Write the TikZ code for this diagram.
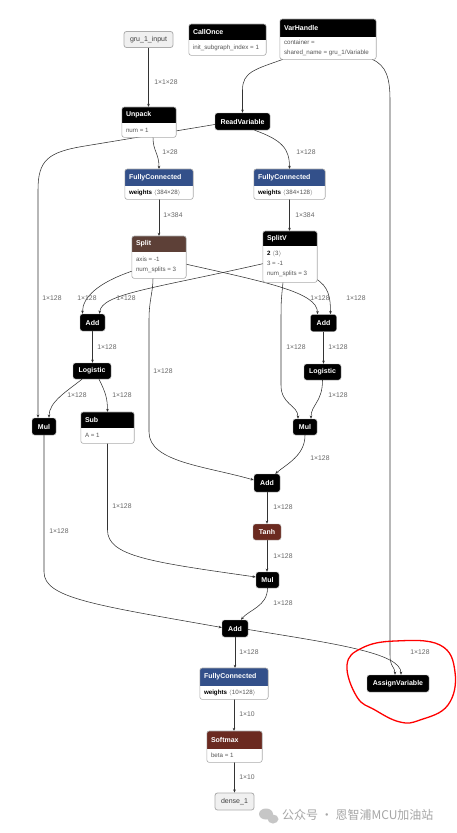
\documentclass[tikz,border=0pt]{standalone}
\usepackage{fontspec}
\setmainfont{Liberation Sans}
\newfontfamily\cjkfont{Noto Sans CJK SC}
\usetikzlibrary{arrows.meta,calc}
\definecolor{fcblue}{HTML}{33508A}
\definecolor{splitbrown}{HTML}{5D4037}
\definecolor{actred}{HTML}{6B2A20}
\definecolor{edgecol}{HTML}{333333}
\definecolor{lblcol}{HTML}{666666}
\definecolor{attrcol}{HTML}{555555}
\pgfdeclarelayer{edgelayer}
\pgfsetlayers{edgelayer,main}
\tikzset{
  opnode/.style={rectangle, rounded corners=2.5pt, fill=black, draw=gray!60, line width=0.4pt, text=white, font=\fontsize{7}{8}\selectfont\bfseries, minimum height=17, inner xsep=3, inner ysep=0},
  ionode/.style={rectangle, rounded corners=2.5pt, fill=gray!12, draw=gray!65, line width=0.8pt, text=black!75, font=\fontsize{7}{8}\selectfont, minimum height=16, inner xsep=3, inner ysep=0},
  boxframe/.style={rectangle, inner sep=0},
  boxline/.style={draw=gray!65, line width=0.6pt, rounded corners=2.5pt},
  titletext/.style={text=white, font=\fontsize{7}{8}\selectfont\bfseries, inner sep=0},
  bodytext/.style={text=attrcol, font=\fontsize{6.2}{10}\selectfont, inner sep=0, align=left},
  conn/.style={draw=edgecol, line width=0.55pt, -{Stealth[length=3.2pt,width=2.6pt]}},
  lbl/.style={text=lblcol, font=\fontsize{6.8}{8}\selectfont, inner sep=0},
}
% #1 name, #2 cx, #3 top, #4 width, #5 header h, #6 body h, #7 colour, #8 title, #9 body
\newcommand\opbox[9]{%
  \node[boxframe, minimum width=#4, minimum height=#5+#6, anchor=north] (#1) at (#2,#3) {};
  \begin{scope}
    \clip[rounded corners=2.5pt] (#1.north west) rectangle (#1.south east);
    \fill[white] (#1.north west) rectangle (#1.south east);
    \fill[#7] (#1.north west) rectangle ([yshift={-#5pt}]#1.north east);
  \end{scope}
  \draw[boxline] (#1.north west) rectangle (#1.south east);
  \node[titletext, anchor=west] (#1t) at ([xshift=4pt,yshift={-0.5*#5pt}]#1.north west) {#8};
  \node[bodytext, anchor=west] (#1b) at ([xshift=4pt,yshift={-(#5+0.5*#6)*1pt}]#1.north west) {#9};
}
\newcommand\wts[1]{{\bfseries\color{black}weights}\ \ensuremath{\langle}#1\ensuremath{\rangle}}
\begin{document}
\begin{tikzpicture}[x=1pt,y=-1pt]
\useasboundingbox (0,0) rectangle (456,833);

% ---------- nodes ----------
\node[ionode, minimum width=49] (input) at (148.5,39.5) {gru\_1\_input};
\opbox{callonce}{227.5}{24}{77}{16}{15}{black}{CallOnce}{init\_subgraph\_index = 1}
\opbox{varh}{328}{19}{96}{18}{22}{black}{VarHandle}{container = \\ shared\_name = gru\_1/Variable}
\opbox{unpack}{149}{107}{54}{16}{14}{black}{Unpack}{num = 1}
\node[opnode, minimum width=55] (rv) at (242.5,121.5) {ReadVariable};
\opbox{fcL}{159}{169}{68}{17}{13}{fcblue}{FullyConnected}{\wts{384×28}}
\opbox{fcR}{289.5}{169}{71}{17}{13}{fcblue}{FullyConnected}{\wts{384×128}}
\opbox{split}{159}{236}{54}{16}{26}{splitbrown}{Split}{axis = -1\\num\_splits = 3}
\opbox{splitv}{290}{231}{54}{15}{36}{black}{SplitV}{{\bfseries\color{black}2}\ \ensuremath{\langle}3\ensuremath{\rangle}\\3 = -1\\num\_splits = 3}
\node[opnode, minimum width=25] (addL) at (92.5,322.5) {Add};
\node[opnode, minimum width=26] (addR) at (323.5,323) {Add};
\node[opnode, minimum width=38, minimum height=16] (logL) at (92,371) {Logistic};
\node[opnode, minimum width=37, minimum height=16] (logR) at (322.5,372) {Logistic};
\node[opnode, minimum width=24] (mulL) at (44,426.5) {Mul};
\opbox{sub}{107.5}{412}{53}{16}{15}{black}{Sub}{A = 1}
\node[opnode, minimum width=24, minimum height=16] (mulR) at (305,427) {Mul};
\node[opnode, minimum width=26, minimum height=18] (addM) at (267,483) {Add};
\node[opnode, fill=actred, minimum width=28, minimum height=16] (tanh) at (267,532) {Tanh};
\node[opnode, minimum width=23, minimum height=16] (mulB) at (267.5,580) {Mul};
\node[opnode, minimum width=26] (addB) at (235,628.5) {Add};
\node[opnode, minimum width=62] (assign) at (398,683.5) {AssignVariable};
\opbox{fcB}{234}{668}{68}{18}{13}{fcblue}{FullyConnected}{\wts{10×128}}
\opbox{softmax}{234.5}{731}{55}{18}{13}{actred}{Softmax}{beta = 1}
\node[ionode, minimum width=39, minimum height=17] (dense) at (234.5,801.5) {dense\_1};

% ---------- labels ----------
\node[lbl] (l1) at (166,82) {1×1×28};
\node[lbl] (l2) at (170,152) {1×28};
\node[lbl] (l3) at (306,152) {1×128};
\node[lbl] (l4) at (173,215) {1×384};
\node[lbl] (l5) at (305,215) {1×384};
\node[lbl] (l6) at (52,298) {1×128};
\node[lbl] (l7) at (87,298) {1×128};
\node[lbl] (l8) at (126,298) {1×128};
\node[lbl] (l9) at (320,298) {1×128};
\node[lbl] (l10) at (356,298) {1×128};
\node[lbl] (l11) at (107,347) {1×128};
\node[lbl] (l12) at (163,371) {1×128};
\node[lbl] (l13) at (77,395) {1×128};
\node[lbl] (l14) at (122,395) {1×128};
\node[lbl] (l15) at (296,347) {1×128};
\node[lbl] (l16) at (338,347) {1×128};
\node[lbl] (l17) at (338,395) {1×128};
\node[lbl] (l18) at (320,458) {1×128};
\node[lbl] (l19) at (283,507) {1×128};
\node[lbl] (l20) at (283,556) {1×128};
\node[lbl] (l21) at (283,603) {1×128};
\node[lbl] (l22) at (122,506) {1×128};
\node[lbl] (l23) at (59,531) {1×128};
\node[lbl] (l24) at (249,652) {1×128};
\node[lbl] (l25) at (420,652) {1×128};
\node[lbl] (l26) at (247,714) {1×10};
\node[lbl] (l27) at (247,777) {1×10};

% ---------- annotation & watermark ----------
\draw[red, line width=1.3pt] plot[smooth cycle, tension=0.7] coordinates {(357,697) (347,665) (362,648) (395,641) (440,645) (455,672) (448,705) (420,720) (400,722) (375,710)};
\fill[gray!45] (266,814) ellipse (7 and 5.5);
\fill[gray!45] (273,819) ellipse (5.5 and 4.5);
\node[text=gray!70, font=\cjkfont\fontsize{12}{13}\selectfont, anchor=west, inner sep=0] (wm) at (282,815) {公众号 · 恩智浦MCU加油站};

% ---------- connectors ----------
\begin{pgfonlayer}{edgelayer}
\fill[white] (0,0) rectangle (456,833);
\draw[conn] (input.south) -- (input.south |- unpack.north);
\draw[conn] ([xshift=3]varh.south west) .. controls +(-28,10) and +(0,-18) .. (242.5,90) -- (rv.north);
\draw[conn] ([xshift=-4]varh.south east) .. controls +(14,6) and +(0,-22) .. (390,100) -- (390,655) .. controls (390,667) and (395,667) .. ([xshift=-3]assign.north);
\draw[conn] ([yshift=-3]rv.west) -- (85,146) .. controls (48,152) and (38,160) .. (38,190) -- ([xshift=-6]mulL.north);
\draw[conn] ([xshift=4]unpack.south) .. controls +(0,14) and +(0,-16) .. (fcL.north);
\draw[conn] ([xshift=12]rv.south) .. controls +(28,10) and +(0,-20) .. (fcR.north);
\draw[conn] (fcL.south) -- (split.north);
\draw[conn] (fcR.south) -- (fcR.south |- splitv.north);
\draw[conn] ([yshift=-14]split.west) .. controls +(-35,12) and +(0,-16) .. ([xshift=-10]addL.north);
\draw[conn] ([yshift=-7]splitv.west) .. controls +(-110,25) and +(2,-20) .. ([xshift=7]addL.north);
\draw[conn] ([yshift=-7]split.east) .. controls +(80,18) and +(0,-22) .. ([xshift=-6]addR.north);
\draw[conn] ([xshift=-2,yshift=4]splitv.south east) .. controls +(14,8) and +(0,-16) .. ([xshift=7]addR.north);
\draw[conn] ([xshift=-6]split.south) .. controls +(0,14) and +(0,-20) .. (149,320) -- (149,432) .. controls (149,462) and (205,466) .. ([yshift=3]addM.west);
\draw[conn] ([xshift=-7]splitv.south) .. controls +(-2,20) and +(0,-30) .. (281,330) -- (281,385) .. controls +(0,20) and +(0,-14) .. ([xshift=-7]mulR.north);
\draw[conn] (addL.south) -- (addL.south |- logL.north);
\draw[conn] (addR.south) -- (addR.south |- logR.north);
\draw[conn] ([xshift=-10]logL.south) .. controls +(-15,12) and +(0,-16) .. ([xshift=5]mulL.north);
\draw[conn] ([xshift=7]logL.south) .. controls +(6,12) and +(0,-14) .. (sub.north);
\draw[conn] (logR.south) .. controls +(0,22) and +(0,-14) .. ([xshift=6]mulR.north);
\draw[conn] (mulR.south) .. controls +(0,20) and +(12,-10) .. ([xshift=-5]addM.north east);
\draw[conn] (addM.south) -- (addM.south |- tanh.north);
\draw[conn] (tanh.south) -- (tanh.south |- mulB.north);
\draw[conn] (sub.south) -- (107.5,530) .. controls (107.5,556) and (150,562) .. ([yshift=3]mulB.west);
\draw[conn] (mulL.south) -- (44,572) .. controls (44,598) and (95,605) .. ([yshift=1]addB.west);
\draw[conn] (mulB.south) .. controls +(0,18) and +(8,-10) .. ([xshift=6]addB.north);
\draw[conn] (addB.south) -- (addB.south |- fcB.north);
\draw[conn] ([yshift=-1]addB.east) .. controls +(85,14) and +(0,-22) .. ([xshift=3]assign.north);
\draw[conn] (fcB.south) -- (fcB.south |- softmax.north);
\draw[conn] (softmax.south) -- (softmax.south |- dense.north);
\end{pgfonlayer}
\end{tikzpicture}
\end{document}
